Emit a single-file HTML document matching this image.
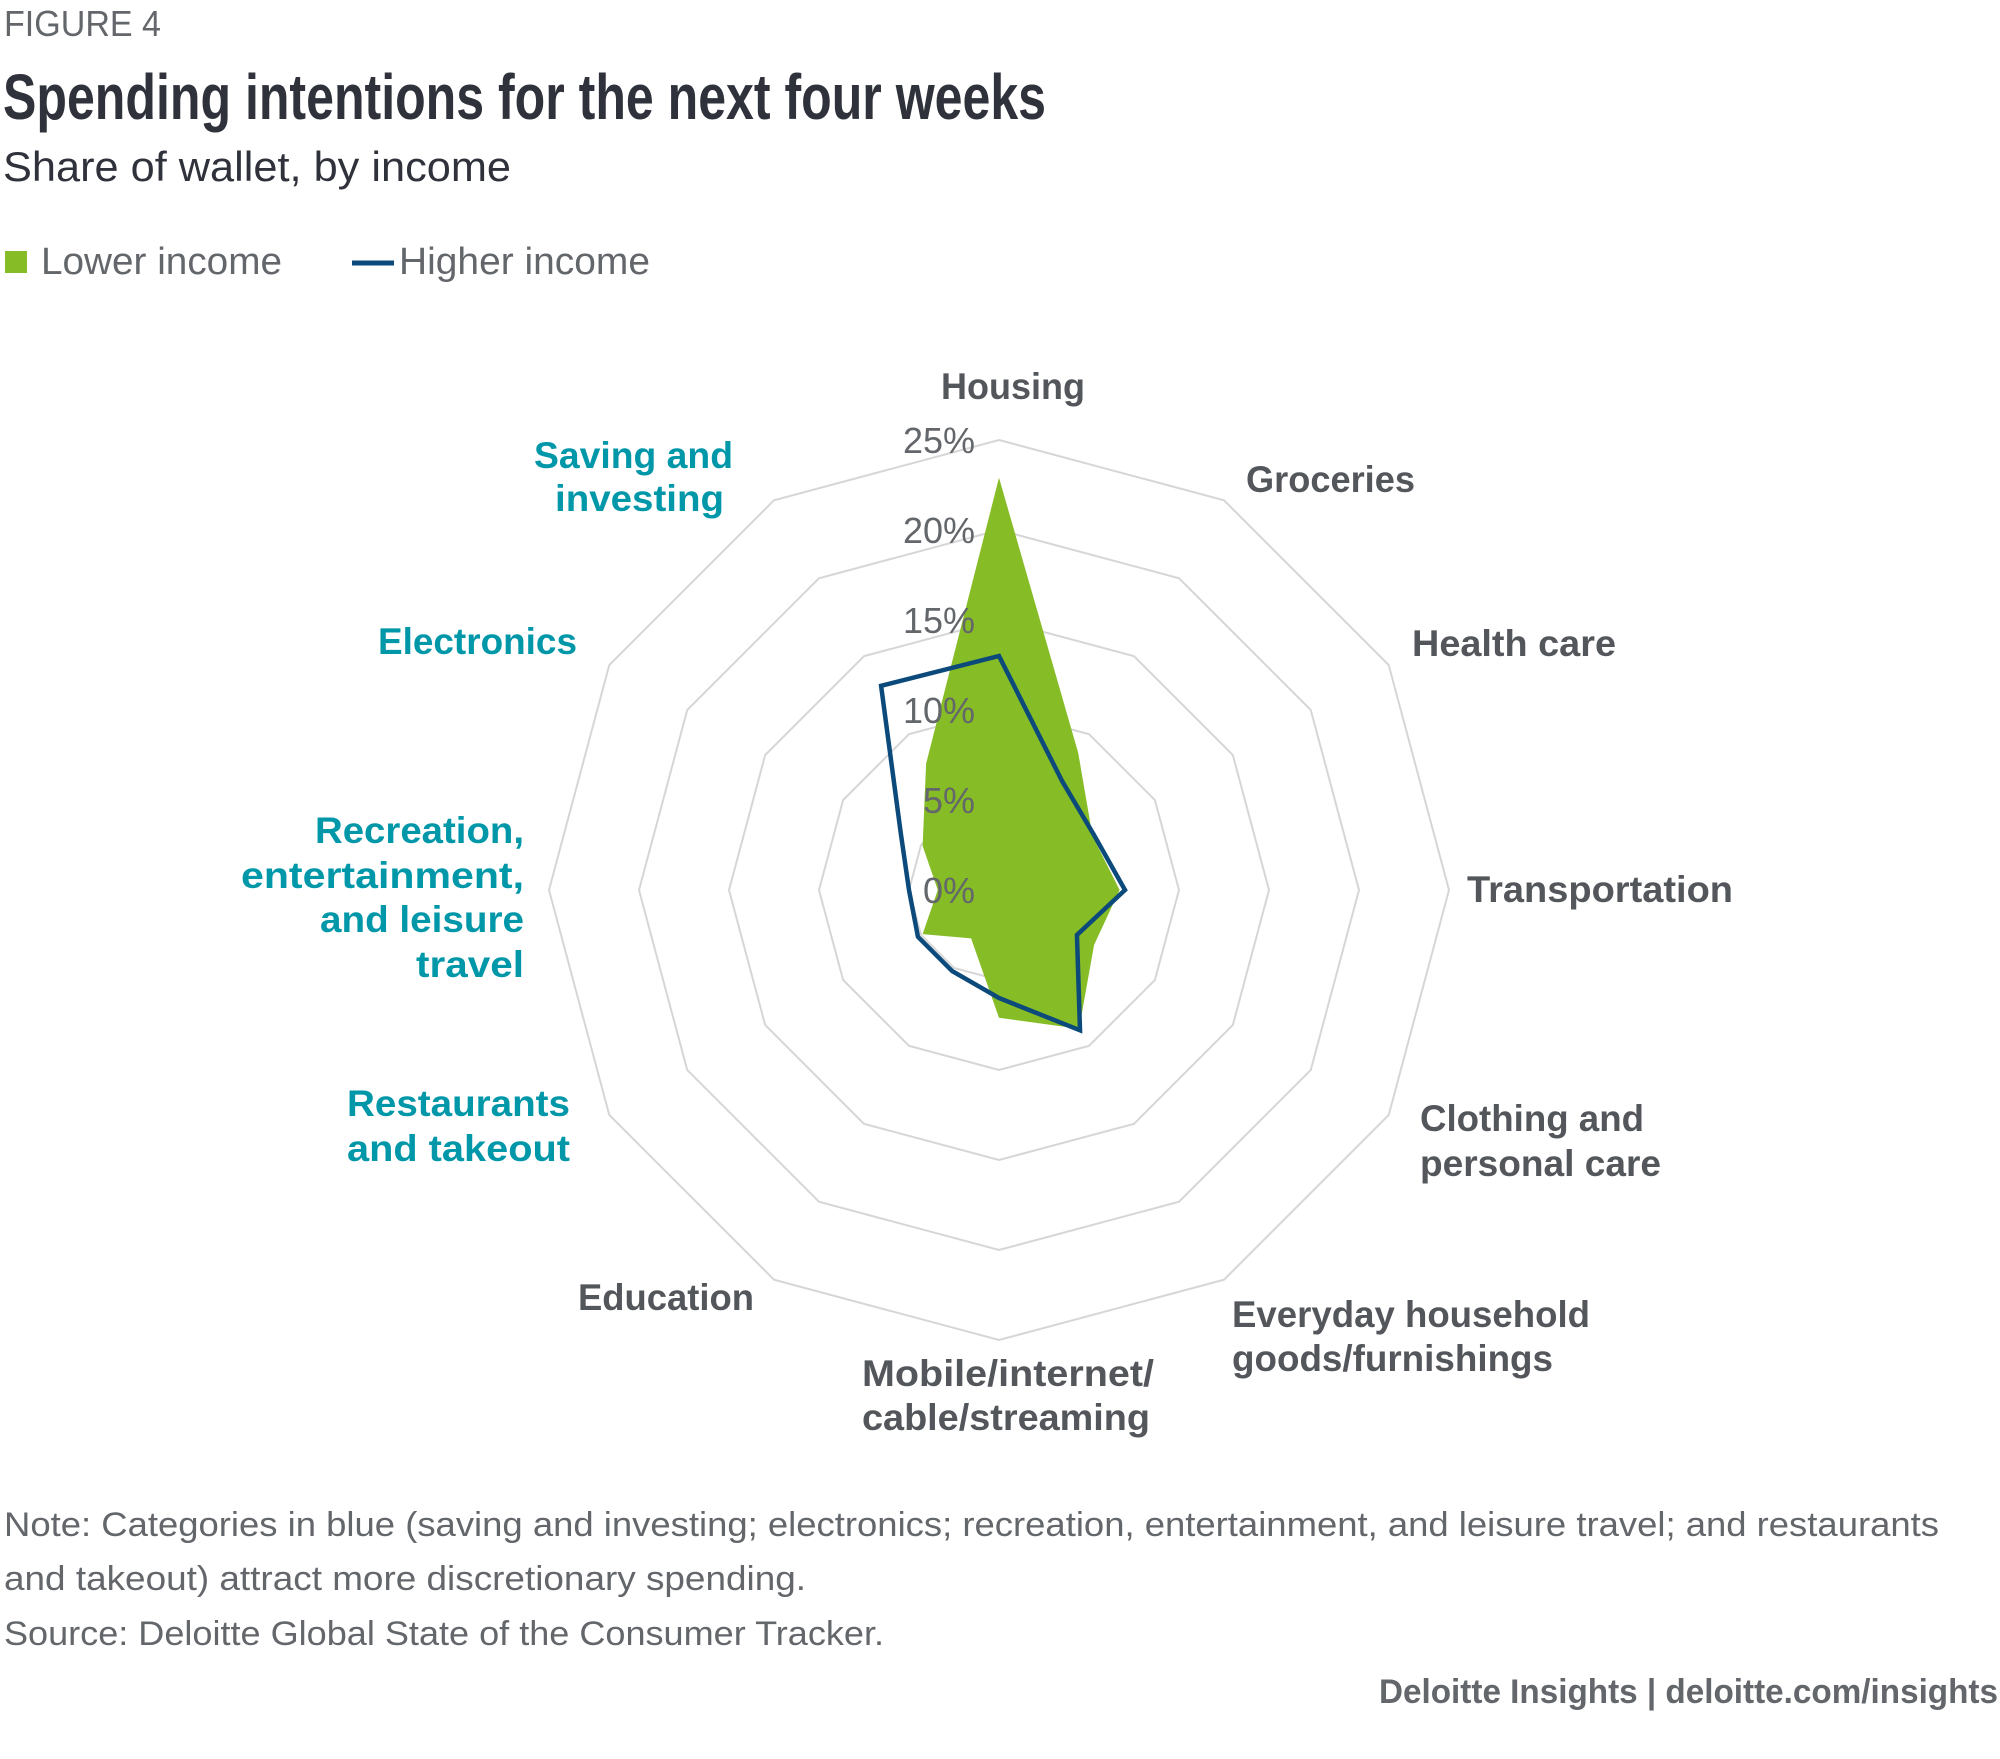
<!DOCTYPE html>
<html><head><meta charset="utf-8"><style>
html,body{margin:0;padding:0;background:#fff;}
svg{display:block;}
text{font-family:"Liberation Sans",sans-serif;}
</style></head><body>
<svg id="chart" width="2000" height="1759" viewBox="0 0 2000 1759">
<text x="4" y="36" font-size="36" fill="#63666a" textLength="157" lengthAdjust="spacingAndGlyphs">FIGURE 4</text>
<text x="3" y="119" font-size="64" font-weight="bold" fill="#2f313b" textLength="1043" lengthAdjust="spacingAndGlyphs">Spending intentions for the next four weeks</text>
<text x="3" y="181" font-size="42" fill="#2f313b" textLength="508" lengthAdjust="spacingAndGlyphs">Share of wallet, by income</text>
<g>
<rect x="5" y="251" width="22" height="22" fill="#86bc25"/>
<text x="41" y="274" font-size="38" fill="#63666a" textLength="241" lengthAdjust="spacingAndGlyphs">Lower income</text>
<line x1="352" y1="263" x2="394" y2="263" stroke="#0b4a7a" stroke-width="5"/>
<text x="399" y="274" font-size="38" fill="#63666a" textLength="251" lengthAdjust="spacingAndGlyphs">Higher income</text>
</g>
<g id="grid"></g>
<g id="series"></g>
<g id="ticks"></g>
<g id="labels" font-size="37" font-weight="bold"></g>
<g fill="#63666a" font-size="34">
<text x="4" y="1536" textLength="1935" lengthAdjust="spacingAndGlyphs">Note: Categories in blue (saving and investing; electronics; recreation, entertainment, and leisure travel; and restaurants</text>
<text x="4" y="1590" textLength="802" lengthAdjust="spacingAndGlyphs">and takeout) attract more discretionary spending.</text>
<text x="4" y="1645" textLength="880" lengthAdjust="spacingAndGlyphs">Source: Deloitte Global State of the Consumer Tracker.</text>
</g>
<text x="1998" y="1703" text-anchor="end" font-size="34" font-weight="bold" fill="#63666a" textLength="619" lengthAdjust="spacingAndGlyphs">Deloitte Insights | deloitte.com/insights</text>
</svg>
<script>
const categories = ["Housing","Groceries","Health care","Transportation","Clothing and personal care","Everyday household goods/furnishings","Mobile/internet/cable/streaming","Education","Restaurants and takeout","Recreation, entertainment, and leisure travel","Electronics","Saving and investing"];
const lowerIncome = [22.9, 8.8, 6.0, 6.7, 6.1, 8.9, 7.1, 3.1, 4.9, 3.4, 4.9, 8.1];
const higherIncome = [13.0, 7.0, 6.1, 7.0, 5.0, 9.0, 6.0, 5.2, 5.2, 5.0, 6.3, 13.1];
const tickValues = [0, 5, 10, 15, 20, 25];
const tickLabels = ["0%","5%","10%","15%","20%","25%"];

const NS = "http://www.w3.org/2000/svg";
const cx = 999, cy = 890, pxPer = 18;
function r(v){ return v * pxPer; }
function pt(i, v){ const a = i * 2 * Math.PI / categories.length; return [cx + r(v) * Math.sin(a), cy - r(v) * Math.cos(a)]; }
function mk(tag, attrs, parent){ const e = document.createElementNS(NS, tag); for (const k in attrs) e.setAttribute(k, attrs[k]); parent.appendChild(e); return e; }

const grid = document.getElementById('grid');
tickValues.forEach(function(t){
  if (t === 0) return;
  const pts = categories.map(function(c, i){ return pt(i, t).join(','); }).join(' ');
  const ring = mk('polygon', {points: pts, fill: 'none', stroke: '#d6d6d6', 'stroke-width': 2}, grid);
  
  
});

const series = document.getElementById('series');
const gPts = lowerIncome.map(function(v, i){ return pt(i, v).join(','); }).join(' ');
const gp = mk('polygon', {points: gPts, fill: '#86bc25', stroke: 'none'}, series);


const bPts = higherIncome.map(function(v, i){ return pt(i, v).join(','); }).join(' ');
const bp = mk('polygon', {points: bPts, fill: 'none', stroke: '#0b4a7a', 'stroke-width': 4.5, 'stroke-linejoin': 'miter'}, series);



const ticks = document.getElementById('ticks');
tickValues.forEach(function(t, k){
  const tx = mk('text', {x: 975, y: cy - r(t) + 13, 'text-anchor': 'end', 'font-size': 36, fill: '#63666a'}, ticks);
  tx.textContent = tickLabels[k];
  
  
});

const gray = '#53565a', teal = '#0097a9';
const labelSpecs = [
  {lines:["Housing"], x:941, ys:[399], anchor:'start', w:[144], c:gray},
  {lines:["Groceries"], x:1246, ys:[492], anchor:'start', w:[169], c:gray},
  {lines:["Health care"], x:1412, ys:[656], anchor:'start', w:[204], c:gray},
  {lines:["Transportation"], x:1467, ys:[902], anchor:'start', w:[266], c:gray},
  {lines:["Clothing and","personal care"], x:1420, ys:[1131,1176], anchor:'start', w:[224,241], c:gray},
  {lines:["Everyday household","goods/furnishings"], x:1232, ys:[1327,1371], anchor:'start', w:[358,321], c:gray},
  {lines:["Mobile/internet/","cable/streaming"], x:862, ys:[1386,1430], anchor:'start', w:[292,288], c:gray},
  {lines:["Education"], x:754, ys:[1310], anchor:'end', w:[176], c:gray},
  {lines:["Restaurants","and takeout"], x:570, ys:[1116,1161], anchor:'end', w:[223,223], c:teal},
  {lines:["Recreation,","entertainment,","and leisure","travel"], x:524, ys:[843,888,932,977], anchor:'end', w:[209,283,204,108], c:teal},
  {lines:["Electronics"], x:577, ys:[654], anchor:'end', w:[199], c:teal},
  {lines:["Saving and","investing"], x:733, ys:[468,511], anchor:'end', w:[199,169], c:teal, xs:[733,724]}
];
const labels = document.getElementById('labels');
labelSpecs.forEach(function(s, i){
  const g = mk('g', {fill: s.c}, labels);
  
  
  s.lines.forEach(function(line, k){
    const t = mk('text', {x: s.xs ? s.xs[k] : s.x, y: s.ys[k], 'text-anchor': s.anchor, textLength: s.w[k], lengthAdjust: 'spacingAndGlyphs'}, g);
    t.textContent = line;
    
    
  });
});
</script>
</body></html>
